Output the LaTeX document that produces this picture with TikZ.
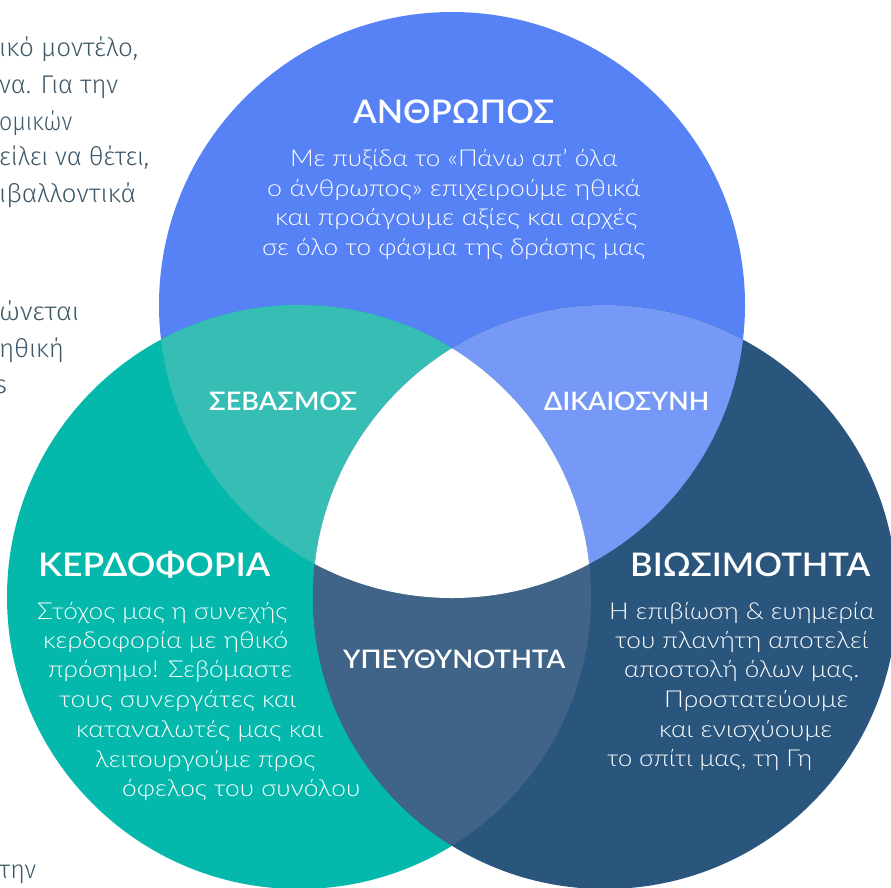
\documentclass[tikz,border=0pt]{standalone}
\usepackage{fontspec}
\usepackage{graphicx}
\setmainfont{Lato}
\newfontfamily\bodyf{Lato Light}
\newfontfamily\headf{Lato Semibold}
\newfontfamily\grayf{Fira Sans Light}
\definecolor{cTop}{HTML}{5682F5}
\definecolor{cLeft}{HTML}{04B8AC}
\definecolor{cRight}{HTML}{2A567E}
\definecolor{cTL}{HTML}{36BEB4}
\definecolor{cTR}{HTML}{7698F6}
\definecolor{cLR}{HTML}{3F6488}
\definecolor{cGray}{RGB}{62,88,104}
\newcommand{\fitw}[2]{\resizebox{#1}{\height}{#2}}
\tikzset{
  txt/.style={inner sep=0pt, anchor=base west},
  bighead/.style={txt, text=white, font=\headf\fontsize{32.5}{32.5}\selectfont},
  smallhead/.style={txt, text=white, font=\headf\fontsize{25.5}{25.5}\selectfont},
  bodytxt/.style={txt, text=white, font=\bodyf\fontsize{23.3}{23.3}\selectfont},
  graytxt/.style={txt, text=cGray, font=\grayf\fontsize{25.6}{25.6}\selectfont}
}
\begin{document}
\begin{tikzpicture}[x=1pt,y=-1pt]
\useasboundingbox (0,0) rectangle (891,887);
\coordinate (cT) at (452,305);
\coordinate (cL) at (299,597);
\coordinate (cR) at (605,597);
% circles
\fill[cTop] (cT) circle (293pt);
\fill[cLeft] (cL) circle (292pt);
\fill[cRight] (cR) circle (292pt);
\begin{scope}
  \clip (cT) circle (293pt);
  \fill[cTL] (cL) circle (292pt);
  \fill[cTR] (cR) circle (292pt);
\end{scope}
\begin{scope}
  \clip (cL) circle (292pt);
  \fill[cLR] (cR) circle (292pt);
\end{scope}
\begin{scope}
  \clip (cT) circle (293pt);
  \clip (cL) circle (292pt);
  \fill[white] (cR) circle (292pt);
\end{scope}
% cut-off text on the left
\node[graytxt] (g1) at (-1,56.7) {\fitw{139pt}{ικό μοντέλο,}};
\node[graytxt] (g2) at (-1,93) {\fitw{119pt}{να. Για την}};
\node[graytxt] (g3) at (-1,130) {\fitw{73pt}{ομικών}};
\node[graytxt] (g4) at (-1,165) {\fitw{150pt}{είλει να θέτει,}};
\node[graytxt] (g5) at (-1,202) {\fitw{137pt}{ιβαλλοντικά}};
\node[graytxt] (g6) at (-1,320) {\fitw{80pt}{ώνεται}};
\node[graytxt] (g7) at (-1,357) {\fitw{65pt}{ηθική}};
\node[graytxt] (g8) at (-6,393) {\fitw{13pt}{s}};
\node[graytxt] (g9) at (-1,878) {\fitw{37pt}{την}};
% headings
\node[bighead] (anthropos) at (353,123) {\fitw{201pt}{ΑΝΘΡΩΠΟΣ}};
\node[bighead] (kerdoforia) at (38,576) {\fitw{232pt}{ΚΕΡΔΟΦΟΡΙΑ}};
\node[bighead] (viosimotita) at (630,576) {\fitw{240pt}{ΒΙΩΣΙΜΟΤΗΤΑ}};
\node[smallhead] (sevasmos) at (209,410) {\fitw{148pt}{ΣΕΒΑΣΜΟΣ}};
\node[smallhead] (dikaiosyni) at (544,410) {\fitw{165pt}{ΔΙΚΑΙΟΣΥΝΗ}};
\node[smallhead] (ypeythynotita) at (343,668) {\fitw{222pt}{ΥΠΕΥΘΥΝΟΤΗΤΑ}};
% top body
\node[bodytxt] (t1) at (290,166.7) {\fitw{327pt}{Με πυξίδα το «Πάνω απ’ όλα}};
\node[bodytxt] (t2) at (267,196.2) {\fitw{373pt}{ο άνθρωπος» επιχειρούμε ηθικά}};
\node[bodytxt] (t3) at (275,225.7) {\fitw{362pt}{και προάγουμε αξίες και αρχές}};
\node[bodytxt] (t4) at (262,255.2) {\fitw{383pt}{σε όλο το φάσμα της δράσης μας}};
% left body
\node[bodytxt] (l1) at (37,619) {\fitw{250pt}{Στόχος μας η συνεχής}};
\node[bodytxt] (l2) at (43,648) {\fitw{245pt}{κερδοφορία με ηθικό}};
\node[bodytxt] (l3) at (48,677) {\fitw{244pt}{πρόσημο! Σεβόμαστε}};
\node[bodytxt] (l4) at (59,707) {\fitw{237pt}{τους συνεργάτες και}};
\node[bodytxt] (l5) at (76,737) {\fitw{247pt}{καταναλωτές μας και}};
\node[bodytxt] (l6) at (95,767) {\fitw{220pt}{λειτουργούμε προς}};
\node[bodytxt] (l7) at (122,796) {\fitw{238pt}{όφελος του συνόλου}};
% right body
\node[bodytxt] (r1) at (609,619) {\fitw{265pt}{Η επιβίωση \& ευημερία}};
\node[bodytxt] (r2) at (615,648) {\fitw{253pt}{του πλανήτη αποτελεί}};
\node[bodytxt] (r3) at (624,677) {\fitw{235pt}{αποστολή όλων μας.}};
\node[bodytxt] (r4) at (664,707) {\fitw{184pt}{Προστατεύουμε}};
\node[bodytxt] (r5) at (659,737) {\fitw{173pt}{και ενισχύουμε}};
\node[bodytxt] (r6) at (607,766) {\fitw{205pt}{το σπίτι μας, τη Γη}};
\end{tikzpicture}
\end{document}
